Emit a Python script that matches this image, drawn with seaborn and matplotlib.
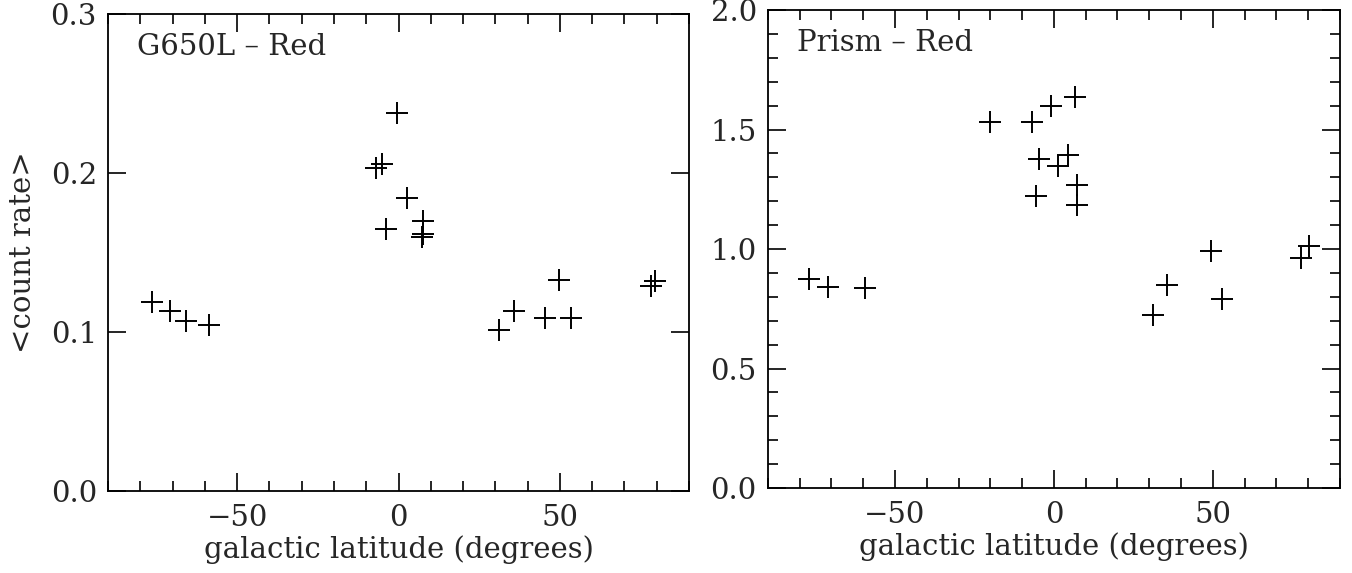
import numpy as np
import pandas as pd
import matplotlib
matplotlib.use("Agg")
import matplotlib.pyplot as plt
import seaborn as sns
from matplotlib.ticker import MultipleLocator

# ---- data ----
g650_lat = [-76.3, -70.8, -65.8, -58.6, -0.4, -7.0, -5.2, 2.7, -4.0, 7.5, 7.7, 7.4,
            31.2, 35.8, 45.4, 49.6, 53.3, 78.2, 79.4]
g650_rate = [0.119, 0.1135, 0.107, 0.1046, 0.2375, 0.203, 0.2056, 0.184, 0.165, 0.170,
             0.1615, 0.160, 0.101, 0.113, 0.109, 0.133, 0.109, 0.129, 0.132]

prism_lat = [-77.0, -71.0, -59.6, -20.1, -6.9, -1.0, 6.8, -4.6, 1.4, 4.4, -5.7, 7.4, 7.4,
             31.1, 35.6, 49.3, 52.9, 77.7, 80.2]
prism_rate = [0.876, 0.842, 0.838, 1.532, 1.532, 1.599, 1.638, 1.378, 1.348, 1.392, 1.222,
              1.267, 1.183, 0.726, 0.848, 0.992, 0.792, 0.964, 1.013]

panel_titles = ["G650L \u2013 Red", "Prism \u2013 Red"]
x_label = "galactic latitude (degrees)"
y_label = "<count rate>"

sns.set_style("ticks")
plt.rcParams['font.family'] = ['DejaVu Serif']
plt.rcParams['axes.linewidth'] = 1.3

fig = plt.figure(figsize=(13.52, 5.73), dpi=100)
ax1 = fig.add_axes([0.0799, 0.1431, 0.5096 - 0.0799, 0.9756 - 0.1431])
ax2 = fig.add_axes([0.568, 0.1483, 0.991 - 0.568, 0.9825 - 0.1483])

df1 = pd.DataFrame({"lat": g650_lat, "rate": g650_rate})
df2 = pd.DataFrame({"lat": prism_lat, "rate": prism_rate})

for ax, df in [(ax1, df1), (ax2, df2)]:
    sns.scatterplot(data=df, x="lat", y="rate", ax=ax, marker="+", s=230,
                    color="black", linewidth=1.4)

fs = 21
ax1.set_xlim(-90, 90)
ax1.set_ylim(0, 0.3)
ax1.yaxis.set_major_locator(MultipleLocator(0.1))
ax1.yaxis.set_major_formatter(matplotlib.ticker.FormatStrFormatter('%.1f'))

ax2.set_xlim(-90, 90)
ax2.set_ylim(0, 2.0)
ax2.yaxis.set_major_locator(MultipleLocator(0.5))
ax2.yaxis.set_minor_locator(MultipleLocator(0.1))
ax2.yaxis.set_major_formatter(matplotlib.ticker.FormatStrFormatter('%.1f'))

for ax, title in [(ax1, panel_titles[0]), (ax2, panel_titles[1])]:
    ax.xaxis.set_major_locator(MultipleLocator(50))
    ax.xaxis.set_minor_locator(MultipleLocator(10))
    ax.tick_params(which="both", direction="in", top=True, right=True,
                   labelsize=fs, color="black", width=1.2)
    ax.tick_params(axis="x", which="both", pad=9)
    ax.tick_params(axis="y", which="both", pad=8)
    ax.tick_params(which="major", length=13)
    ax.tick_params(which="minor", length=7)
    ax.set_xlabel(x_label, fontsize=fs, labelpad=3)
    ax.set_ylabel("")
    ax.text(0.05, 0.93, title, transform=ax.transAxes, fontsize=fs,
            ha="left", va="center")
    for s in ax.spines.values():
        s.set_color("black")

ax1.set_ylabel(y_label, fontsize=fs, labelpad=10)

fig.savefig("out.png", dpi=100)
